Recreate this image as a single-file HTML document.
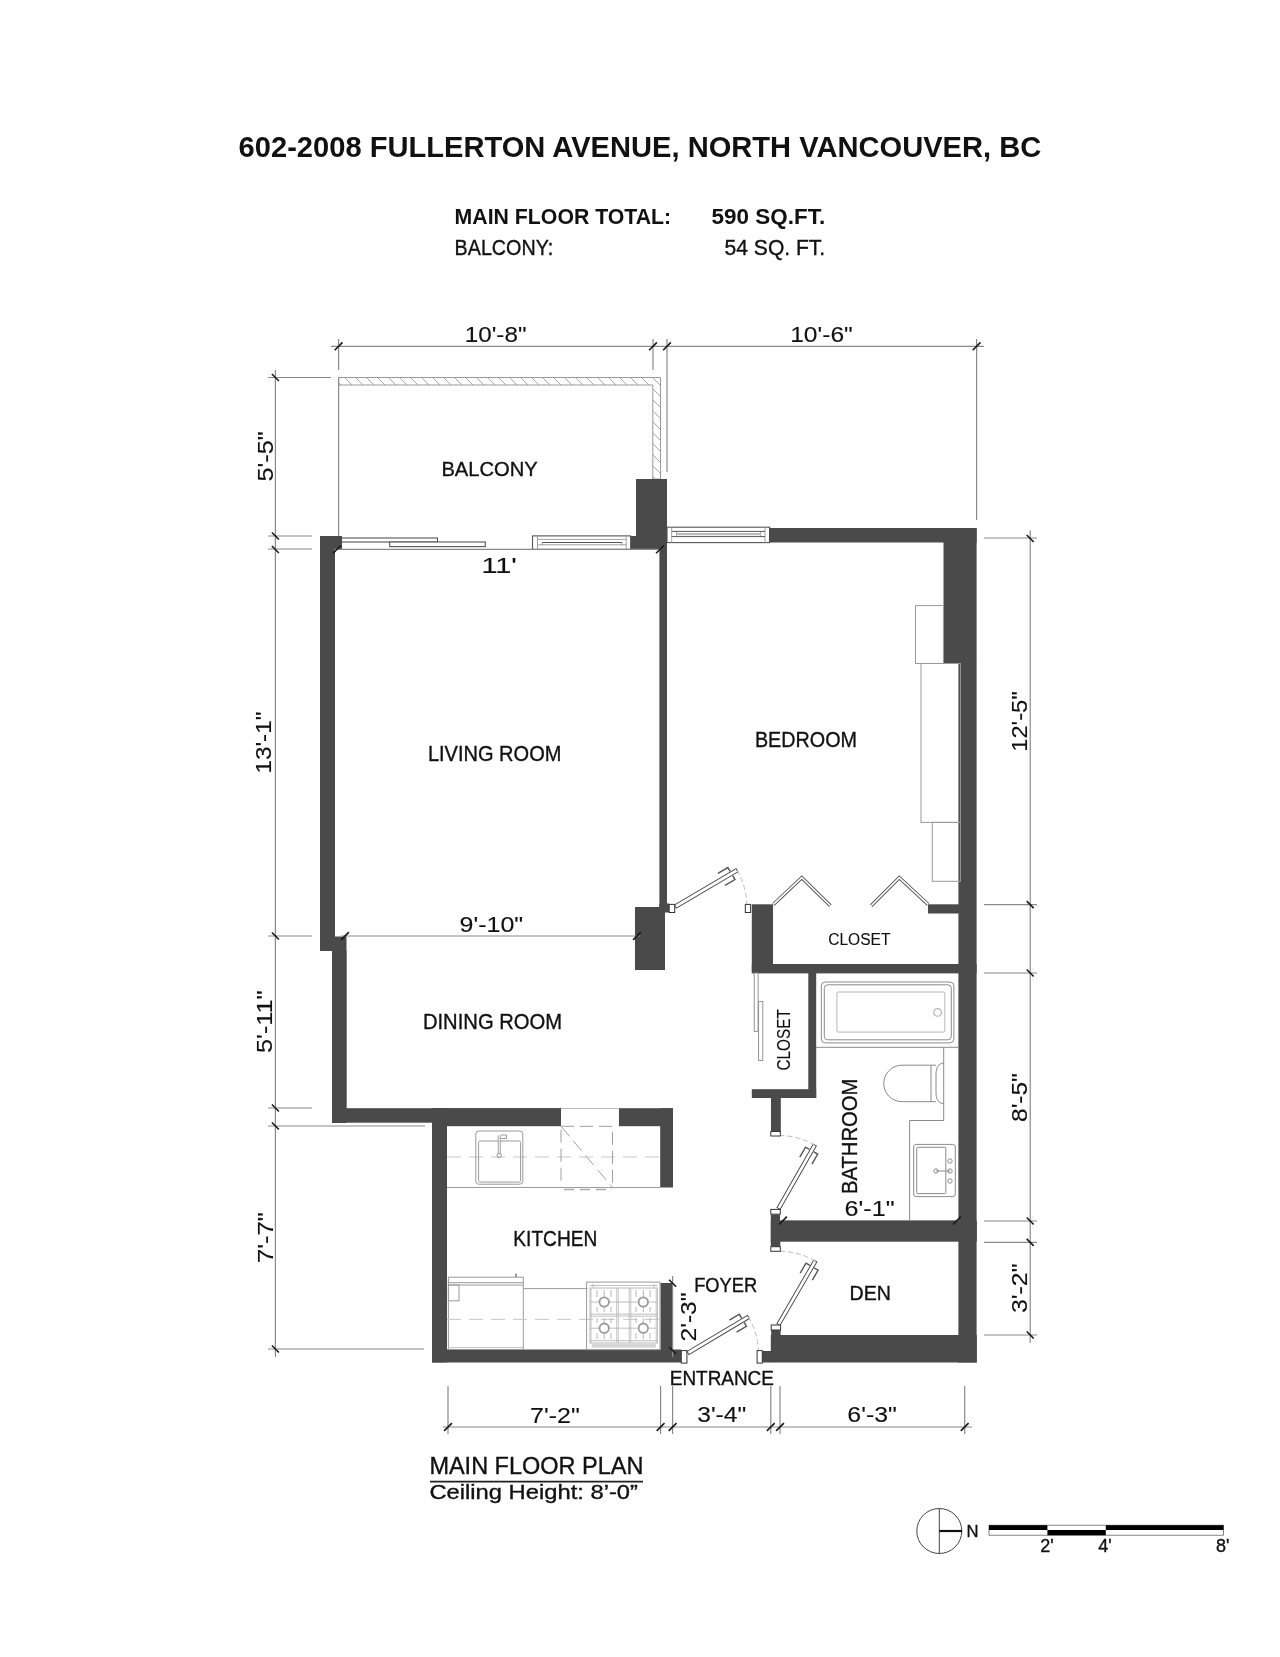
<!DOCTYPE html>
<html><head><meta charset="utf-8">
<style>
html,body{margin:0;padding:0;background:#fff;}
body{width:1280px;height:1657px;overflow:hidden;}
svg{display:block;will-change:transform;}
text{font-family:"Liberation Sans",sans-serif;fill:#111;stroke:#111;stroke-width:0.35;}
.dt text{stroke-width:0.12;}
.w{fill:#4a4a4a;}
.dl{stroke:#8a8a8a;stroke-width:1.2;fill:none;}
.tk{stroke:#1a1a1a;stroke-width:1.6;fill:none;}
.ln{stroke:#9a9a9a;stroke-width:1;fill:none;}
.wn{fill:#fff;stroke:#777;stroke-width:1;}
</style></head>
<body>
<svg width="1280" height="1657" viewBox="0 0 1280 1657">
<rect width="1280" height="1657" fill="#fff"/>

<!-- HEADER -->
<text x="238.6" y="156.8" font-size="30.2" font-weight="bold" style="stroke-width:0" textLength="802.6" lengthAdjust="spacingAndGlyphs">602-2008 FULLERTON AVENUE, NORTH VANCOUVER, BC</text>
<text x="454.6" y="224.4" font-size="22.3" font-weight="bold" style="stroke-width:0" textLength="216.6" lengthAdjust="spacingAndGlyphs">MAIN FLOOR TOTAL:</text>
<text x="711.6" y="224.4" font-size="22.3" font-weight="bold" style="stroke-width:0" textLength="113.6" lengthAdjust="spacingAndGlyphs">590 SQ.FT.</text>
<text x="454.6" y="254.6" font-size="22" textLength="98.6" lengthAdjust="spacingAndGlyphs">BALCONY:</text>
<text x="724.6" y="254.6" font-size="22" textLength="100.6" lengthAdjust="spacingAndGlyphs">54 SQ. FT.</text>


<defs>
<pattern id="hatch" patternUnits="userSpaceOnUse" width="11" height="11">
<path d="M-2 -2L13 13M-13 -2L2 13M9 -2L24 13" stroke="#a0a0a0" stroke-width="0.9"/>
</pattern>
</defs>
<!-- BALCONY RAIL -->
<path d="M338.6 377.5H660.5V479H652.8V385H338.6Z" fill="url(#hatch)" stroke="#9a9a9a" stroke-width="1"/>
<path d="M338.6 377.5V536" stroke="#8a8a8a" stroke-width="1.2"/>
<!-- WINDOWS -->
<g stroke="#555" stroke-width="1.1" fill="#fff">
<rect x="341" y="538" width="96.5" height="4"/>
<rect x="389.7" y="542" width="95.6" height="4.6"/>
<rect x="532.5" y="535.9" width="98.1" height="13.5"/>
<rect x="667" y="527.2" width="102.7" height="15.4"/>
</g>
<g stroke="#999" stroke-width="0.9" fill="none">
<path d="M537.5 535.9V549.4M626.25 535.9V549.4M537.5 539.4H626.25M537.5 544.75H626.25M542.25 542V545.5M621.9 542V545.5"/>
<path d="M671.7 527.2V542.6M765 527.2V542.6M676.4 531.4V536.6M760.75 531.4V536.6"/>
</g>
<g stroke="#555" stroke-width="1" fill="none">
<path d="M542.25 542.5H621.9"/>
<path d="M671.7 531.4H765M671.7 536.6H765"/>
</g>
<rect x="677" y="533" width="83" height="2.2" fill="#bbb"/>

<!-- WALLS -->
<g class="w">
<rect x="320" y="536" width="15" height="415"/>
<rect x="320" y="536" width="22" height="13.5"/>
<rect x="334" y="936.5" width="12.5" height="15"/>
<rect x="332" y="951" width="14.7" height="172"/>
<rect x="332" y="1108.2" width="229" height="14.5"/>
<rect x="432" y="1108.2" width="129" height="18"/>
<rect x="432" y="1108.5" width="15" height="254"/>
<rect x="432" y="1349.5" width="249" height="13"/>
<rect x="619" y="1108.2" width="54" height="18"/>
<rect x="660.2" y="1108.2" width="12.8" height="79.3"/>
<rect x="660.5" y="1283" width="12.5" height="79"/>
<rect x="636" y="479" width="31" height="70.5"/>
<rect x="631" y="536" width="36" height="13.5"/>
<rect x="659.4" y="549" width="7.6" height="358"/>
<rect x="635" y="907" width="30" height="63"/>
<rect x="659.4" y="903.5" width="9.8" height="9"/>
<rect x="769" y="528" width="207.6" height="14.5"/>
<rect x="943.5" y="528" width="33.1" height="135.5"/>
<rect x="958.4" y="663" width="18.2" height="699.5"/>
<rect x="928" y="904.3" width="32" height="9.2"/>
<rect x="751.8" y="904.3" width="21.2" height="68.3"/>
<rect x="751.8" y="964" width="224.8" height="9.4"/>
<rect x="808.3" y="972" width="7.9" height="126"/>
<rect x="751.8" y="1089.2" width="64.4" height="8.8"/>
<rect x="771" y="1098" width="9.8" height="34"/>
<rect x="770.8" y="1214.6" width="9.2" height="27"/>
<rect x="770.8" y="1220.7" width="206" height="21"/>
<rect x="770.8" y="1335" width="206" height="27.5"/>
<rect x="761.5" y="1351" width="10" height="11.5"/>
<rect x="770.8" y="1241" width="9.5" height="6"/>
<rect x="771.2" y="1329.5" width="9.4" height="6"/>
</g>


<!-- DIMENSIONS -->
<g class="dl">
<path d="M331 346.3H984"/>
<path d="M338.6 339V370M653 339V370M667 339V472M976.6 339V520"/>
<path d="M275.4 370V1357"/>
<path d="M268 377.5H331M268 536H312M268 549H312M268 936H312M268 1108H312M268 1126H425M268 1349H424"/>
<path d="M1030.2 530.6V1343"/>
<path d="M984 538H1037M984 904.6H1037M984 973H1037M984 1221H1037M984 1242.4H1037M984 1335H1037"/>
<path d="M443 1427H972"/>
<path d="M448 1386V1434M660.6 1386V1434M672.6 1386V1434M770.8 1386V1434M780 1386V1434M964.7 1386V1434"/>
<path d="M334 549.4H660"/>
<path d="M341 936H640"/>
<path d="M780 1220.5H958"/>
<path d="M672.6 1276V1357"/>
</g>
<g class="tk">
<path d="M334.7 350.2l7.8-7.8M649.1 350.2l7.8-7.8M663.1 350.2l7.8-7.8M972.7 350.2l7.8-7.8M271.9 374.0l7.0 7.0M271.9 532.5l7.0 7.0M271.9 546.0l7.0 7.0M271.9 932.5l7.0 7.0M271.9 1104.5l7.0 7.0M271.9 1122.5l7.0 7.0M271.9 1345.5l7.0 7.0M1026.7 535.0l7.0 7.0M1026.7 901.1l7.0 7.0M1026.7 969.5l7.0 7.0M1026.7 1217.5l7.0 7.0M1026.7 1238.9l7.0 7.0M1026.7 1331.5l7.0 7.0M444.1 1430.9l7.8-7.8M656.7 1430.9l7.8-7.8M668.7 1430.9l7.8-7.8M766.9 1430.9l7.8-7.8M776.1 1430.9l7.8-7.8M960.8 1430.9l7.8-7.8M333.1 553.3l7.8-7.8M656.1 553.3l7.8-7.8M341.1 939.9l7.8-7.8M633.1 939.9l7.8-7.8M779.1 1224.4l7.8-7.8M953.1 1224.4l7.8-7.8M669.1 1279.8l7.0 7.0M669.1 1347l7.0 7.0"/>
</g>
<g class="dt">
<text x="464.8" y="342" font-size="21.4" textLength="61.7" lengthAdjust="spacingAndGlyphs">10'-8"</text>
<text x="790.2" y="341.9" font-size="21.4" textLength="62.6" lengthAdjust="spacingAndGlyphs">10'-6"</text>
<text x="481.4" y="572.5" font-size="21.4" textLength="35.4" lengthAdjust="spacingAndGlyphs">11'</text>
<text x="459.6" y="931.6" font-size="21.4" textLength="63.6" lengthAdjust="spacingAndGlyphs">9'-10"</text>
<text x="844.6" y="1216" font-size="21.4" textLength="50.0" lengthAdjust="spacingAndGlyphs">6'-1"</text>
<text x="530.1" y="1423.1" font-size="21.4" textLength="49.7" lengthAdjust="spacingAndGlyphs">7'-2"</text>
<text x="697.2" y="1422.3" font-size="21.4" textLength="49.1" lengthAdjust="spacingAndGlyphs">3'-4"</text>
<text x="847.3" y="1422.3" font-size="21.4" textLength="49.6" lengthAdjust="spacingAndGlyphs">6'-3"</text>
<text transform="translate(272.9 481.4) rotate(-90)" font-size="21.9" textLength="50.1" lengthAdjust="spacingAndGlyphs">5'-5"</text>
<text transform="translate(271 773.6) rotate(-90)" font-size="21.9" textLength="62.0" lengthAdjust="spacingAndGlyphs">13'-1"</text>
<text transform="translate(272.3 1053.0) rotate(-90)" font-size="21.9" textLength="62.6" lengthAdjust="spacingAndGlyphs">5'-11"</text>
<text transform="translate(272.7 1263.0) rotate(-90)" font-size="21.9" textLength="50.8" lengthAdjust="spacingAndGlyphs">7'-7"</text>
<text transform="translate(1026.6 751.8) rotate(-90)" font-size="21.9" textLength="60.5" lengthAdjust="spacingAndGlyphs">12'-5"</text>
<text transform="translate(1026.8 1122.0) rotate(-90)" font-size="21.9" textLength="48.8" lengthAdjust="spacingAndGlyphs">8'-5"</text>
<text transform="translate(1026.8 1313.0) rotate(-90)" font-size="21.9" textLength="49.5" lengthAdjust="spacingAndGlyphs">3'-2"</text>
<text transform="translate(696.3 1341.4) rotate(-90)" font-size="21.9" textLength="48.8" lengthAdjust="spacingAndGlyphs">2'-3"</text>
</g>

<!-- DOORS -->
<g transform="translate(675.5 906.5) rotate(-30.5)"><rect x="0" y="-1.8" width="71.4" height="3.6" fill="#fff" stroke="#444" stroke-width="0.9"/><path d="M53.4 -7H64.9V-2.5M53.4 7H64.9V2.5" fill="none" stroke="#555" stroke-width="1.4"/></g><path d="M737.0 870.3A71.4 71.4 0 0 1 746.8 904.0" fill="none" stroke="#bbb" stroke-width="1" stroke-dasharray="5 3"/>
<g transform="translate(778.6 1208.5) rotate(-60.3)"><rect x="0" y="-1.8" width="73.1" height="3.6" fill="#fff" stroke="#444" stroke-width="0.9"/><path d="M55.1 -7H66.6V-2.5M55.1 7H66.6V2.5" fill="none" stroke="#555" stroke-width="1.4"/></g><path d="M814.8 1145.0A73.1 73.1 0 0 0 775.5 1135.5" fill="none" stroke="#bbb" stroke-width="1" stroke-dasharray="5 3"/>
<g transform="translate(778.5 1324.5) rotate(-59.9)"><rect x="0" y="-1.8" width="73.4" height="3.6" fill="#fff" stroke="#444" stroke-width="0.9"/><path d="M55.4 -7H66.9V-2.5M55.4 7H66.9V2.5" fill="none" stroke="#555" stroke-width="1.4"/></g><path d="M815.3 1261.0A73.4 73.4 0 0 0 775.5 1251.2" fill="none" stroke="#bbb" stroke-width="1" stroke-dasharray="5 3"/>
<g transform="translate(688.0 1353.0) rotate(-30.8)"><rect x="0" y="-1.8" width="70.4" height="3.6" fill="#fff" stroke="#444" stroke-width="0.9"/><path d="M52.4 -7H63.9V-2.5M52.4 7H63.9V2.5" fill="none" stroke="#555" stroke-width="1.4"/></g><path d="M748.5 1317.0A70.4 70.4 0 0 1 758.4 1350.6" fill="none" stroke="#bbb" stroke-width="1" stroke-dasharray="5 3"/>
<g fill="#fff" stroke="#333" stroke-width="1">
<rect x="669.2" y="904.4" width="5.5" height="8.1"/>
<rect x="745.3" y="904.4" width="5.3" height="8.1"/>
<rect x="770.8" y="1131.5" width="9.5" height="4.5"/>
<rect x="770.8" y="1209.4" width="9.5" height="4.8"/>
<rect x="770.8" y="1246.7" width="9.5" height="4.6"/>
<rect x="771.2" y="1325" width="9.4" height="5"/>
<rect x="681.3" y="1350.6" width="5.6" height="12.5"/>
<rect x="757.1" y="1350.6" width="5.2" height="12.5"/>
</g>
<!-- BIFOLD -->
<g fill="none" stroke="#555" stroke-width="3.4" stroke-linejoin="miter">
<path d="M773.4 904.4L801.8 877.7L830.4 905.8M871.2 905.8L899.3 877.7L928.1 904.4"/>
</g>
<g fill="none" stroke="#fff" stroke-width="1.6" stroke-linejoin="miter">
<path d="M773.4 904.4L801.8 877.7L830.4 905.8M871.2 905.8L899.3 877.7L928.1 904.4"/>
</g>
<!-- HALL CLOSET SLIDERS -->
<g fill="#fff" stroke="#888" stroke-width="0.9">
<rect x="754.2" y="973" width="3.9" height="58.4"/>
<rect x="758.6" y="1001.6" width="4.2" height="58.9"/>
</g>
<!-- BATHROOM -->
<g fill="none" stroke="#8a8a8a" stroke-width="1">
<rect x="821.3" y="982" width="132.6" height="60.9" rx="4"/>
<rect x="824.3" y="984.8" width="127" height="55" rx="3.5"/>
<rect x="836.9" y="992" width="107.9" height="40.1" rx="1.5" stroke="#b5b5b5"/>
<circle cx="937.6" cy="1012.4" r="3.8" stroke="#b5b5b5" stroke-width="1.3"/>
<path d="M816 1047.3H958.5"/>
<path d="M943.7 1047.3V1120.5H909.6V1220.7"/>
<path d="M936 1065.2H902A18.25 18.25 0 0 0 902 1101.7H936M931 1065.2V1101.7"/>
<path d="M943.7 1063C938 1063.5 936 1068 936 1075V1092C936 1099 938 1103.2 943.7 1103.7"/>
<rect x="913.7" y="1144.4" width="41.6" height="52.2" rx="2.5"/>
<rect x="916.7" y="1147.3" width="29.1" height="46.3" rx="1"/>
<path d="M936 1171H950"/>
<circle cx="936" cy="1171" r="2.2"/>
<circle cx="950" cy="1171" r="2.2"/>
<circle cx="950" cy="1161" r="2.2"/>
<circle cx="950" cy="1181" r="2.2"/>
</g>
<!-- KITCHEN -->
<g fill="none" stroke="#9a9a9a" stroke-width="1">
<path d="M447 1187.5H660.5"/>
<path d="M447 1157H660.5" stroke-dasharray="14 8" stroke="#c8c8c8"/>
<path d="M561 1108.5H619" stroke="#bbb"/>
<rect x="475.8" y="1131" width="47" height="53.2" rx="3"/>
<rect x="478.6" y="1141" width="42" height="41" rx="1.5"/>
<path d="M499.2 1135.5V1154" stroke-width="2.8" stroke="#888"/>
<path d="M499.2 1135.5V1154" stroke-width="1.2" stroke="#fff"/>
<circle cx="499.2" cy="1155.5" r="2.2"/>
<path d="M501 1135H506.5V1138.5H501"/>
<path d="M561 1126.3H612.5V1187.5H561Z M561 1126.3L612.5 1187.5" stroke-dasharray="13 6" stroke="#a0a0a0"/>
<path d="M564 1189.5H574M580 1189.5H590M596 1189.5H606" stroke="#aaa" stroke-width="1.5"/>
<rect x="448.4" y="1277.2" width="74.9" height="72.2"/>
<path d="M448.4 1282.7H523.3M448.4 1285H523.3"/>
<rect x="448.4" y="1285" width="10.6" height="15.8"/>
<path d="M516 1277V1273.5" stroke-width="2"/>
<path d="M448.4 1347.5H523.3" stroke="#c8c8c8"/>
<path d="M523.3 1288.6H587.4"/>
<path d="M447 1319.4H660.5" stroke-dasharray="14 8" stroke="#c8c8c8"/>
<rect x="586.6" y="1282.1" width="73.4" height="67.6"/>
</g>
<!-- STOVE -->
<g fill="none" stroke="#a5a5a5" stroke-width="0.9">
<path d="M590 1285.5H657.3M593 1284V1287.5M654 1284V1287.5" stroke="#b5b5b5"/>
<rect x="590" y="1288" width="67.3" height="55" stroke="#b0b0b0"/>
<path d="M591 1288V1343M616.7 1288V1343M618.3 1288V1343M629.2 1288V1343M630.8 1288V1343M656.2 1288V1343" stroke="#c0c0c0"/>
<path d="M590 1302H657.3M590 1314.1H657.3M590 1316.1H657.3M590 1328.2H657.3M590 1340.7H657.3" stroke="#b8b8b8"/>
<path d="M597 1290V1297M604.2 1290V1297M611 1290V1297M636 1290V1297M643.3 1290V1297M650 1290V1297M597 1307V1312M604.2 1307V1312M611 1307V1312M636 1307V1312M643.3 1307V1312M650 1307V1312M597 1318V1323M604.2 1318V1323M611 1318V1323M636 1318V1323M643.3 1318V1323M650 1318V1323M597 1333V1339M604.2 1333V1339M611 1333V1339M636 1333V1339M643.3 1333V1339M650 1333V1339" stroke="#b0b0b0"/>
<circle cx="604.2" cy="1302" r="4.7" stroke="#9a9a9a" stroke-width="1.8" fill="#fff"/>
<circle cx="643.3" cy="1302" r="4.7" stroke="#9a9a9a" stroke-width="1.8" fill="#fff"/>
<circle cx="604.2" cy="1328.2" r="4.7" stroke="#9a9a9a" stroke-width="1.8" fill="#fff"/>
<circle cx="643.3" cy="1328.2" r="4.7" stroke="#9a9a9a" stroke-width="1.8" fill="#fff"/>
<rect x="591.7" y="1343.8" width="64.1" height="3.9" fill="#d5d5d5" stroke="none"/>
</g>
<!-- FURNITURE -->
<g fill="none" stroke="#9a9a9a" stroke-width="1">
<rect x="915.5" y="605.6" width="28" height="57.9"/>
<rect x="921" y="663.5" width="39.4" height="158.9"/>
<rect x="932.3" y="822.4" width="28.1" height="58.9"/>
</g>

<!-- ROOM LABELS -->
<text x="441.4" y="475.6" font-size="20.4" textLength="96.4" lengthAdjust="spacingAndGlyphs">BALCONY</text>
<text x="427.9" y="760.5" font-size="21.4" textLength="133.5" lengthAdjust="spacingAndGlyphs">LIVING ROOM</text>
<text x="754.9" y="746.9" font-size="21.4" textLength="102.1" lengthAdjust="spacingAndGlyphs">BEDROOM</text>

<text x="422.9" y="1028.6" font-size="21.4" textLength="139.2" lengthAdjust="spacingAndGlyphs">DINING ROOM</text>
<text x="513.3" y="1246.1" font-size="21.4" textLength="84.0" lengthAdjust="spacingAndGlyphs">KITCHEN</text>
<text x="828.2" y="944.5" font-size="16.7" textLength="62.2" lengthAdjust="spacingAndGlyphs" style="stroke-width:0.12">CLOSET</text>
<text transform="translate(790.3 1070.5) rotate(-90)" font-size="17.8" textLength="61.4" lengthAdjust="spacingAndGlyphs" style="stroke-width:0.12">CLOSET</text>
<text transform="translate(857.4 1194.0) rotate(-90)" font-size="22.5" textLength="115.4" lengthAdjust="spacingAndGlyphs">BATHROOM</text>
<text x="694.2" y="1291.9" font-size="20.3" textLength="63.0" lengthAdjust="spacingAndGlyphs">FOYER</text>
<text x="849.6" y="1299.6" font-size="20.4" textLength="41.4" lengthAdjust="spacingAndGlyphs">DEN</text>
<text x="669.8" y="1385.1" font-size="19.9" textLength="104.1" lengthAdjust="spacingAndGlyphs">ENTRANCE</text>
<text x="429.4" y="1474" font-size="24.0" textLength="214.0" lengthAdjust="spacingAndGlyphs">MAIN FLOOR PLAN</text>
<path d="M430 1481.6H643" stroke="#222" stroke-width="1.6"/>
<text x="429.4" y="1498.8" font-size="20.9" textLength="208.6" lengthAdjust="spacingAndGlyphs">Ceiling Height: 8’-0”</text>

<!-- NORTH + SCALE -->
<circle cx="939.3" cy="1531" r="22.5" fill="none" stroke="#444" stroke-width="1"/>
<path d="M939.3 1508.5V1553.5" stroke="#444" stroke-width="1"/>
<path d="M939.3 1531H962" stroke="#111" stroke-width="2.2"/>
<text x="966.5" y="1537" font-size="16.5" textLength="12" lengthAdjust="spacingAndGlyphs">N</text>
<rect x="989" y="1525.2" width="234.5" height="10" fill="#fff" stroke="#666" stroke-width="0.8"/>
<rect x="989" y="1525.2" width="58.4" height="4.8" fill="#000"/>
<rect x="1047.4" y="1530" width="58.4" height="5.2" fill="#000"/>
<rect x="1105.8" y="1525.2" width="117.7" height="4.8" fill="#000"/>
<text x="1047" y="1552" font-size="18" text-anchor="middle">2'</text>
<text x="1105" y="1552" font-size="18" text-anchor="middle">4'</text>
<text x="1222.7" y="1552" font-size="18" text-anchor="middle">8'</text>
</svg>
</body></html>
